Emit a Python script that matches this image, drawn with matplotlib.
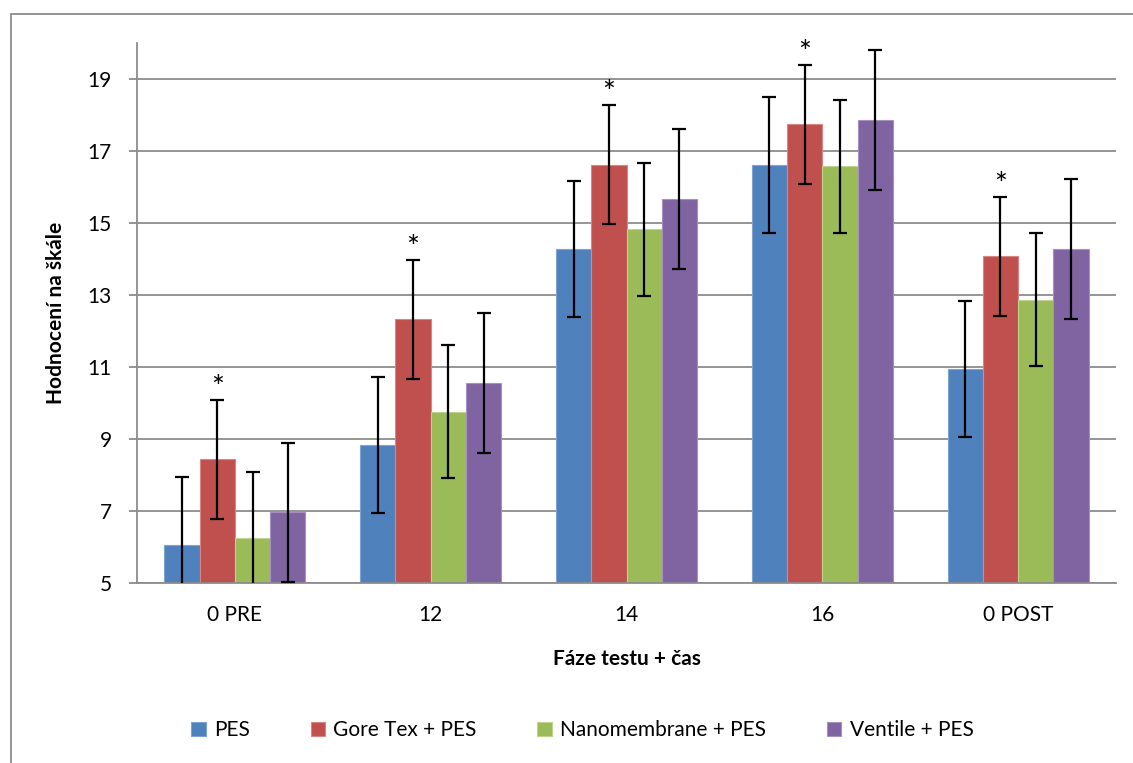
import numpy as np
import matplotlib
matplotlib.use("Agg")
import matplotlib.pyplot as plt
from matplotlib.patches import Rectangle

# data
categories = ["0 PRE", "12", "14", "16", "0 POST"]
series = ["PES", "Gore Tex + PES", "Nanomembrane + PES", "Ventile + PES"]
pes = [6.05, 8.84, 14.27, 16.62, 10.95]
gore = [8.44, 12.32, 16.62, 17.74, 14.07]
nano = [6.24, 9.76, 14.82, 16.58, 12.87]
ventile = [6.96, 10.55, 15.67, 17.87, 14.27]
err = [1.89, 1.65, 1.85, 1.94]
star_series = "Gore Tex + PES"
colors = ["#4F81BD", "#C0504D", "#9BBB59", "#8064A2"]
edges = ["#7FA3D3", "#D88684", "#BCD48E", "#A590C0"]

plt.rcParams['font.family'] = ['Lato', 'DejaVu Sans']

fig = plt.figure(figsize=(11.33, 7.63), dpi=100)
ax = fig.add_axes([137/1133, 1-583/763, (1116-137)/1133, (583-43)/763])

values = [pes, gore, nano, ventile]
x = np.arange(len(categories))
w = 0.18
for i, (name, vals) in enumerate(zip(series, values)):
    pos = x + (i - 1.5) * w
    ax.bar(pos, vals, w, color=colors[i], edgecolor=edges[i], linewidth=0.8,
           label=name, zorder=2)
    ax.errorbar(pos, vals, yerr=err[i], fmt="none", ecolor="black",
                elinewidth=1.6, capsize=5, capthick=1.6, zorder=3)
    if name == star_series:
        for p, v in zip(pos, vals):
            ax.text(p, v + err[i] - 0.05, "*", ha="center", va="bottom",
                    fontsize=22, zorder=4)

ax.set_xlim(-0.5, len(categories) - 0.5)
ax.set_ylim(5, 20)
ax.set_yticks(np.arange(5, 20, 2))
ax.set_xticks(x)
ax.set_xticklabels(categories)
ax.yaxis.grid(True, color="#8C8C8C", linewidth=1.3, zorder=0)
ax.set_axisbelow(True)
for s in ["top", "right"]:
    ax.spines[s].set_visible(False)
for s in ["left", "bottom"]:
    ax.spines[s].set_color("#8C8C8C")
    ax.spines[s].set_linewidth(1.3)
ax.tick_params(axis="y", length=6, width=1.3, color="#8C8C8C", pad=12,
               labelsize=15)
ax.tick_params(axis="x", length=0, pad=16, labelsize=15)

ax.set_ylabel("Hodnocení na škále", fontsize=15, fontweight="bold", labelpad=16)
ax.set_xlabel("Fáze testu + čas", fontsize=15, fontweight="bold", labelpad=17)

fig.legend(loc="center", bbox_to_anchor=(0.514, 0.043), ncol=4, frameon=False,
           fontsize=15, handlelength=0.7, handleheight=0.7,
           handletextpad=0.4, columnspacing=2.9)

# chart border (only top and left visible in the crop)
fig.add_artist(Rectangle((11/1133, -0.1), 1.2, 1.1 - 14/763,
                         transform=fig.transFigure, fill=False,
                         edgecolor="#8C8C8C", linewidth=1.3))

fig.savefig("out.png", dpi=100)
